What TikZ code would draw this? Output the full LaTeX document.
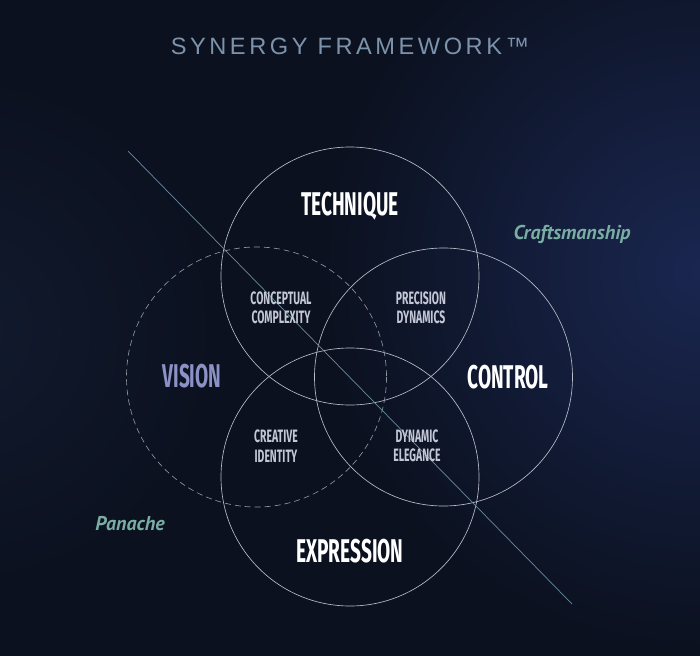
\documentclass[tikz,border=0pt]{standalone}
\usepackage{fontspec}
\setmainfont{Liberation Sans}
\newfontfamily\headfont{Fira Sans}[FakeStretch=0.58]
\newfontfamily\notefont{PT Sans}
\newfontfamily\titlefont{Liberation Sans}[LetterSpace=15]
\usepackage{xcolor}
\definecolor{bgnavy}{HTML}{0B111F}
\definecolor{bgglow}{HTML}{1A2650}
\definecolor{bgside}{HTML}{121A2E}
\definecolor{ringgrey}{HTML}{B8BDC8}
\definecolor{ringdim}{HTML}{8E94A0}
\definecolor{axisblue}{HTML}{6A8CA0}
\definecolor{titleslate}{HTML}{7D93AB}
\definecolor{visionlav}{HTML}{8C91C6}
\definecolor{pairgrey}{HTML}{C3C7D6}
\definecolor{noteteal}{HTML}{7AAEA4}

\tikzset{
  ring/.style={draw=ringgrey, line width=0.65bp},
  axis/.style={draw=axisblue, line width=0.7bp},
  head/.style={font=\headfont\bfseries\fontsize{33}{33}\selectfont, text=white, inner sep=0pt, anchor=base},
  pair/.style={font=\headfont\bfseries\fontsize{18}{19.5}\selectfont, text=pairgrey, inner sep=0pt, align=center},
  note/.style={font=\notefont\bfseries\itshape\fontsize{20}{20}\selectfont, text=noteteal, inner sep=0pt, anchor=base},
}

\begin{document}
\begin{tikzpicture}[x=1bp,y=-1bp]
% backdrop
\fill[bgnavy] (0,0) rectangle (700,656);
\begin{scope}
\clip (0,0) rectangle (700,656);
\shade[inner color=bgglow, outer color=bgnavy] (700,270) circle[radius=380];
\shade[inner color=bgside, outer color=bgnavy] (-40,330) circle[radius=260];
\end{scope}
\useasboundingbox (0,0) rectangle (700,656);

% the four circles
\coordinate (tech) at (350,276);
\coordinate (vis) at (256.5,377);
\coordinate (ctrl) at (443.5,377);
\coordinate (expr) at (350,477);
\foreach \c in {tech,ctrl,expr}
  \draw[ring] (\c) circle[radius=129];
\draw[ring, draw=ringdim, dash pattern=on 6bp off 4bp] (vis) circle[radius=130];

% diagonal axis
\coordinate (axisA) at (128,151);
\coordinate (axisB) at (572,604);
\draw[axis] (axisA) -- (axisB);

% labels
\node[font=\titlefont\fontsize{23.7}{24}\selectfont, text=titleslate, inner sep=0pt, anchor=base] (heading) at (350,55) {SYNERGY FRAMEWORK™};
\node[head] (technique) at (350,215) {TECHNIQUE};
\node[head, text=visionlav] (vision) at (192,387) {VISION};
\node[head] (control) at (508,388) {CONTROL};
\node[head] (expression) at (350,562) {EXPRESSION};
\node[pair] (conceptual) at (281,307.5) {CONCEPTUAL\\COMPLEXITY};
\node[pair] (precision) at (421,307.5) {PRECISION\\DYNAMICS};
\node[pair] (creative) at (276,446) {CREATIVE\\IDENTITY};
\node[pair] (elegance) at (417,446) {DYNAMIC\\ELEGANCE};
\node[note] (craft) at (572,239) {Craftsmanship};
\node[note] (panache) at (130,530) {Panache};
\end{tikzpicture}
\end{document}
